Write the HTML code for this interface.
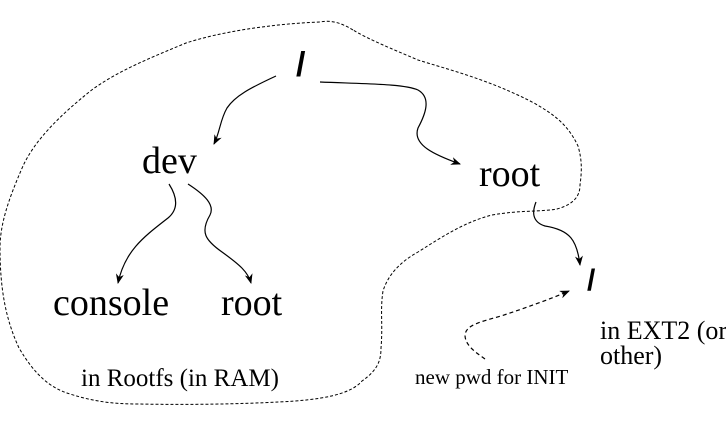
<!DOCTYPE html>
<html><head><meta charset="utf-8"><style>
html,body{margin:0;padding:0;background:#fff;}
svg{display:block;}
.t{font-family:"Liberation Serif",serif;fill:#000;}
.s{font-family:"Liberation Sans",sans-serif;font-weight:bold;fill:#000;}
</style></head><body>
<svg width="726" height="424" viewBox="0 0 726 424" xmlns="http://www.w3.org/2000/svg">
<defs>
<marker id="a" markerWidth="10" markerHeight="8" refX="9" refY="4" orient="auto" markerUnits="userSpaceOnUse">
<path d="M0,0 L10,4 L0,8 L3,4 Z" fill="#000"/></marker>
</defs>
<path d="M353,30 C340,22 330,20 320,22 C270,24 220,32 186,43 C150,58 120,70 93,89 C60,115 35,140 23,166 C8,200 0,225 0,248 C0,290 6,320 19,348 C35,375 50,388 70,394 C95,402 115,404 139,404 C190,405 240,404 279,402 C320,400 350,395 362,381 C378,370 381,360 381,348 C383,325 380,310 383,291 C388,275 400,262 418,252 C445,235 465,222 492,215 C520,210 540,212 557,209 C575,204 580,195 580,185 C582,170 582,160 578,146 C568,125 555,115 534,103 C490,80 450,70 418,60 C390,48 370,40 353,30 Z" fill="none" stroke="#000" stroke-width="1" stroke-dasharray="3,2"/>
<g fill="none" stroke="#000" stroke-width="1.2">
<path d="M276,76 C250,88 235,96 227,108 C220,120 220,132 214,144" marker-end="url(#a)"/>
<path d="M320,82 C370,84 405,84 418,90 C432,98 425,115 418,128 C412,145 435,155 460,164" marker-end="url(#a)"/>
<path d="M169,184 C176,195 180,208 168,218 C145,236 125,250 118,283" marker-end="url(#a)"/>
<path d="M188,184 C205,195 215,205 210,215 C200,232 205,240 222,252 C240,265 248,272 251,283" marker-end="url(#a)"/>
<path d="M536,202 C532,212 532,222 545,226 C570,230 577,240 580,265" marker-end="url(#a)"/>
<path d="M485,359 C475,352 465,345 465,335 C466,325 480,322 501,316 C525,308 548,300 569,291" stroke-dasharray="4,3" marker-end="url(#a)"/>
</g>
<text class="s" x="296" y="76" font-size="34">/</text>
<text class="s" x="587" y="290" font-size="30">/</text>
<text class="t" x="142" y="173" font-size="38">dev</text>
<text class="t" x="479" y="186" font-size="38">root</text>
<text class="t" x="53" y="315" font-size="38">console</text>
<text class="t" x="221" y="315" font-size="38">root</text>
<text class="t" x="81" y="386" font-size="25">in Rootfs (in RAM)</text>
<text class="t" x="415" y="384" font-size="21">new pwd for INIT</text>
<text class="t" x="600" y="339" font-size="26">in EXT2 (or</text>
<text class="t" x="600" y="364" font-size="26">other)</text>
</svg>
</body></html>
